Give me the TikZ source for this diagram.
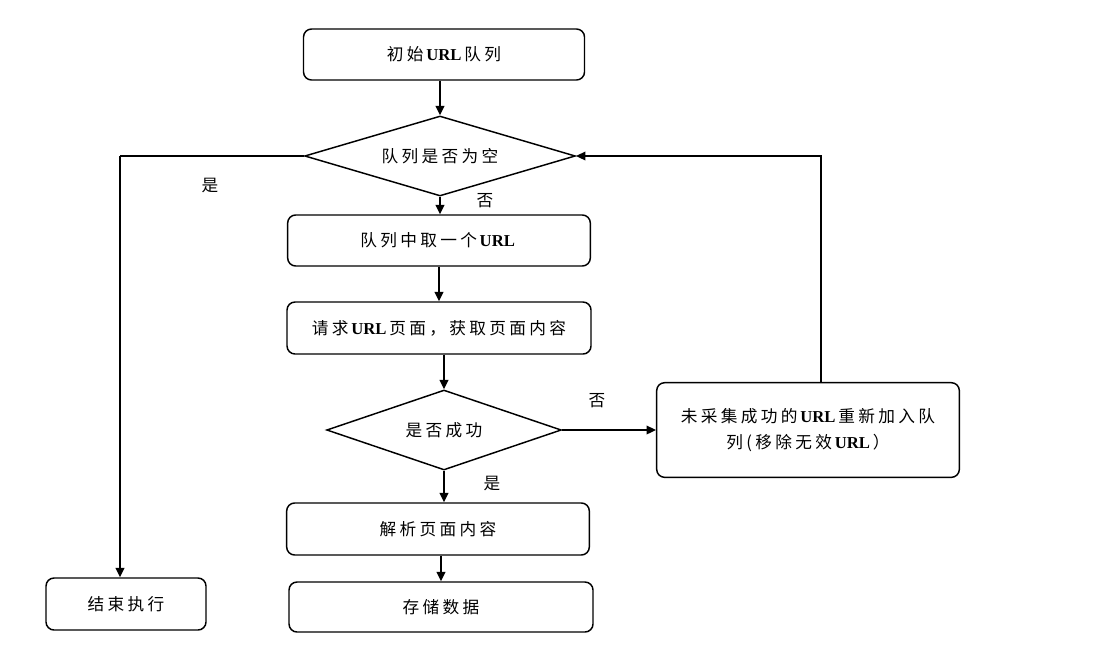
\documentclass[tikz,border=0pt]{standalone}
\usepackage{fontspec}
\setmainfont{Noto Sans CJK SC}[LetterSpace=20]
\newfontfamily\enfont{Liberation Serif}
\usepackage{tikz}
\usetikzlibrary{shapes.geometric,arrows.meta,positioning,calc}
\newcommand{\urlbf}{\,{\enfont\bfseries URL}\,}

\begin{document}
\begin{tikzpicture}[x=0.75pt,y=-0.75pt,
    line width=1.1pt,
    txt/.style={font=\fontsize{12.5}{19}\selectfont},
    procbox/.style={txt,draw,rounded corners=6pt,align=center,inner sep=0pt},
    decide/.style={txt,draw,diamond,aspect=3.4,inner sep=0pt},
    arr/.style={-{Triangle[length=7pt,width=6.5pt]}},
    lbl/.style={txt}]
  \useasboundingbox (0,0) rectangle (1117,664);
  % main column
  \node[procbox,minimum width=210.75pt,minimum height=38.25pt] (init) at (444,54.5) {初始\urlbf 队列};
  \node[decide,minimum width=203pt,minimum height=60pt] (empty) at (440,156) {队列是否为空};
  \node[procbox,minimum width=227pt,minimum height=38.25pt] (pick) at (439,240.5) {队列中取一个\urlbf};
  \node[procbox,minimum width=228pt,minimum height=39pt] (req) at (439,328) {请求\urlbf 页面，获取页面内容};
  \node[decide,minimum width=176pt,minimum height=60pt] (ok) at (444,430) {是否成功};
  \node[procbox,minimum width=227pt,minimum height=39pt] (parse) at (438,529) {解析页面内容};
  \node[procbox,minimum width=228pt,minimum height=37.5pt] (store) at (441,607) {存储数据};
  % side boxes
  \node[procbox,minimum width=227pt,minimum height=71pt] (retry) at (808,430) {未采集成功的\urlbf 重新加入队\\列(移除无效\urlbf）};
  \node[procbox,minimum width=120pt,minimum height=39pt] (stop) at (126,604) {结束执行};
  % arrows
  \draw[arr] (init.south -| empty.north) -- (empty.north);
  \draw[arr] (empty.south) -- (empty.south |- pick.north);
  \draw[arr] (pick.south) -- (pick.south |- req.north);
  \draw[arr] (req.south -| ok.north) -- (ok.north);
  \draw[arr] (ok.south) -- (ok.south |- parse.north);
  \draw[arr] (parse.south -| store.north) -- (store.north);
  \draw[arr] (ok.east) -- (retry.west);
  \draw[arr] ($(retry.north)+(13,0)$) |- (empty.east);
  \coordinate (turn) at (empty.west -| 120,0);
  \draw[line width=2pt] (empty.west) -- (turn);
  \draw[arr] (turn) -- (turn |- stop.north);
  % labels
  \node[lbl] (yes1) at (210,186) {是};
  \node[lbl] (no1) at (485,201) {否};
  \node[lbl] (no2) at (597,401) {否};
  \node[lbl] (yes2) at (492,484) {是};
\end{tikzpicture}
\end{document}
